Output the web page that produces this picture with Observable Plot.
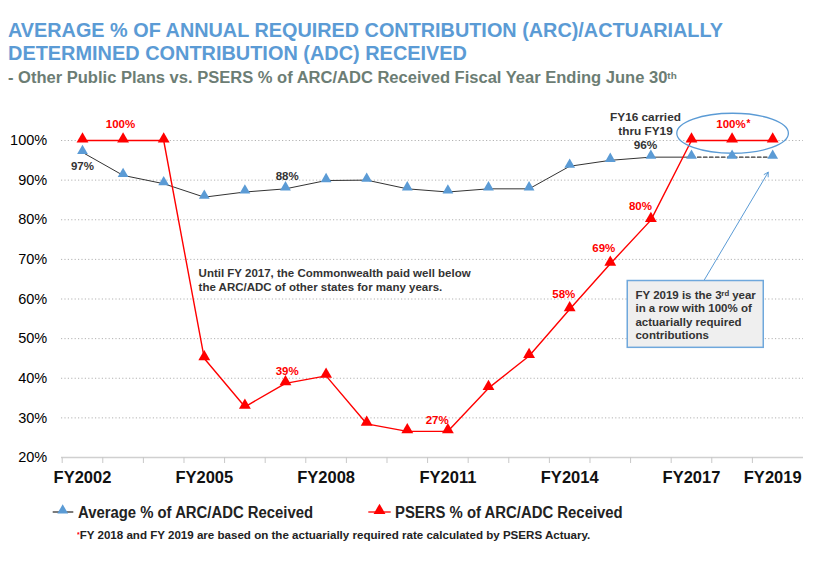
<!DOCTYPE html>
<html><head><meta charset="utf-8">
<script src="https://cdn.jsdelivr.net/npm/d3@7"></script>
<script src="https://cdn.jsdelivr.net/npm/@observablehq/plot@0.6"></script>
<style>
body{margin:0;background:#fff;}
#root{position:relative;width:821px;height:566px;overflow:hidden;font-family:"Liberation Sans",Arial,Helvetica,sans-serif;}
.t{position:absolute;white-space:nowrap;line-height:1;transform-origin:0 0;font-weight:bold;}
.t sup{font-size:0.6em;position:relative;top:-0.45em;vertical-align:baseline;line-height:0;}
#chart{position:absolute;left:0;top:100px;}
#legendIcons{position:absolute;left:0;top:495px;}
</style></head><body><div id="root">
<div class="t" id="t1" style="color:#5b9bd5">AVERAGE % OF ANNUAL REQUIRED CONTRIBUTION (ARC)/ACTUARIALLY</div>
<div class="t" id="t2" style="color:#5b9bd5">DETERMINED CONTRIBUTION (ADC) RECEIVED</div>
<div class="t" id="t3" style="color:#6c7d74">- Other Public Plans vs. PSERS % of ARC/ADC Received Fiscal Year Ending June 30<sup>th</sup></div>
<div id="chart"></div>
<svg id="legendIcons" width="821" height="34"></svg>
<div class="t" id="lg1" style="color:#222">Average % of ARC/ADC Received</div>
<div class="t" id="lg2" style="color:#222">PSERS % of ARC/ADC Received</div>
<div class="t" id="fn" style="color:#222"><sup style="color:#f00">*</sup>FY 2018 and FY 2019 are based on the actuarially required rate calculated by PSERS Actuary.</div>
</div>
<script>
// ---- data ----
const years = [2002,2003,2004,2005,2006,2007,2008,2009,2010,2011,2012,2013,2014,2015,2016,2017,2018,2019];
const avgPct = [97,91.2,89.1,85.7,87.0,87.8,89.9,90.0,87.8,87.0,87.8,87.8,93.5,95.0,95.8,95.8,95.8,95.8];
const psersPct = [100,100,100,45.0,32.8,38.7,40.6,28.5,26.6,26.6,37.5,45.6,57.4,68.9,79.9,100,100,100];
const labelYears = [2002,2005,2008,2011,2014,2017,2019];
const yTicks = [20,30,40,50,60,70,80,90,100];
const seriesNames = ["Average % of ARC/ADC Received","PSERS % of ARC/ADC Received"];

// value labels: which point, text
const pointLabels = [
  {series:"avg", year:2002, text:"97%"},
  {series:"psers", year:2003, text:"100%"},
  {series:"avg", year:2007, text:"88%"},
  {series:"psers", year:2007, text:"39%"},
  {series:"psers", year:2011, text:"27%"},
  {series:"psers", year:2014, text:"58%"},
  {series:"psers", year:2015, text:"69%"},
  {series:"psers", year:2016, text:"80%"},
  {series:"psers", year:2018, text:"100%"}
];
const carriedNote = "FY16 carried\nthru FY19\n96%";
const bodyNote = "Until FY 2017, the Commonwealth paid well below\nthe ARC/ADC of other states for many years.";
const boxNote = "FY 2019 is the 3\u02B3\u1D48 year\nin a row with 100% of\nactuarially required\ncontributions";

// ---- styling / placement (not data) ----
const BLUE = "#5b9bd5", RED = "#ff0000", DARK = "#333";
const labelOffsets = [[0,14.1],[-2.6,-16],[1.7,-12.3],[1.7,-12],[-10.7,-10.7],[-5.9,-14.8],[-6.5,-15.2],[-10.4,-13.6],[-1.1,-16]];

const data = years.map((year,i)=>({year, avg:avgPct[i], psers:psersPct[i]}));
const valueOf = (series, year) => data.find(d=>d.year===year)[series];
const halfYears = years.map(y=>y-0.5);

const labelMarks = pointLabels.map((l,i)=>Plot.text([l], {
  x: "year", y: d=>valueOf(d.series,d.year), text: "text",
  dx: labelOffsets[i][0], dy: labelOffsets[i][1],
  fill: l.series==="psers" ? RED : DARK, fontWeight: "bold", fontSize: 11.5, lineAnchor: "middle"
}));

const chart = Plot.plot({
  width: 821, height: 400,
  marginLeft: 61, marginRight: 18, marginTop: 40, marginBottom: 43,
  style: {fontFamily: "'Liberation Sans', Arial, sans-serif", color: "#000", background: "transparent", overflow: "visible"},
  x: {domain: [2001.483, 2019.759], label: null},
  y: {domain: [20, 100], label: null},
  marks: [
    Plot.gridY(yTicks, {stroke: "#b3b3b3", strokeOpacity: 1, strokeDasharray: "1.2,2.2"}),
    Plot.ruleY([20], {stroke: "#d0d0d0", strokeWidth: 1.5}),
    Plot.axisY({ticks: yTicks, tickSize: 0, tickPadding: 14.3, tickFormat: d=>d+"%", fontSize: 14.5, label: null}),
    Plot.axisX({ticks: halfYears, tickSize: 6, tickFormat: ()=>"", stroke: "#c8c8c8", label: null}),
    Plot.axisX({ticks: labelYears, tickSize: 0, tickPadding: 13.7, tickFormat: d=>"FY"+d, fontSize: 16.5, fontWeight: "bold", fill: "#111", label: null}),
    // annotation box + arrow
    Plot.arrow([{x1:2017.30, y1:64.54, x2:2018.89, y2:92.0}], {x1:"x1", y1:"y1", x2:"x2", y2:"y2", stroke: BLUE, strokeWidth: 1, headLength: 7}),
    Plot.rect([{x1:2015.43, x2:2018.78, y1:64.54, y2:47.68}], {x1:"x1", x2:"x2", y1:"y1", y2:"y2", fill: "#efefef", stroke: "#6fa8dc", strokeWidth: 1.5}),
    Plot.text([{x:2015.62, y:62.52}], {x:"x", y:"y", text: ()=>boxNote, textAnchor: "start", lineAnchor: "top", lineHeight: 1.174, fontSize: 11.5, fontWeight: "bold", fill: DARK}),
    // data
    Plot.line(data.filter(d=>d.year<=2017), {x: "year", y: "avg", stroke: DARK, strokeWidth: 1}),
    Plot.line(data.filter(d=>d.year>=2017), {x: "year", y: "avg", stroke: DARK, strokeWidth: 1.3, strokeDasharray: "3.5,2.5"}),
    Plot.line(data, {x: "year", y: "psers", stroke: RED, strokeWidth: 1.4}),
    Plot.dot(data, {x: "year", y: "avg", symbol: "triangle", r: 4, fill: BLUE, stroke: "none", dy: -1.5}),
    Plot.dot(data, {x: "year", y: "psers", symbol: "triangle", r: 4.4, fill: RED, stroke: "none", dy: -1.5}),
    ...labelMarks,
    Plot.text([{year:2018, series:"psers"}], {x:"year", y: d=>valueOf(d.series,d.year), text: ()=>"*", dx: 14.4, dy: -16.5, textAnchor: "start", fill: RED, fontWeight: "bold", fontSize: 10, lineAnchor: "middle"}),
    Plot.text([{year:2016, series:"avg"}], {x:"year", y: d=>valueOf(d.series,d.year), text: ()=>carriedNote, dx: -5.4, dy: -26.6, lineAnchor: "middle", lineHeight: 1.2, fill: DARK, fontWeight: "bold", fontSize: 11.8}),
    Plot.text([{x:2004.86, y:64.86}], {x:"x", y:"y", text: ()=>bodyNote, textAnchor: "start", lineAnchor: "middle", lineHeight: 1.174, fill: DARK, fontWeight: "bold", fontSize: 11.5})
  ]
});
document.getElementById("chart").appendChild(chart);

// ellipse highlighting FY2017-2019 100%
const sx = chart.scale("x"), sy = chart.scale("y");
d3.select(chart).append("ellipse")
  .attr("cx", sx.apply(2018) + 1).attr("cy", sy.apply(101.7))
  .attr("rx", 55.8).attr("ry", 20)
  .attr("fill", "none").attr("stroke", BLUE).attr("stroke-width", 1.3);

// legend swatches
const lg = d3.select("#legendIcons");
const tri = (r) => d3.symbol(d3.symbolTriangle, Math.PI*r*r)();
[[52.7,73.3,62.7,DARK,BLUE,4],[368.3,390.7,379.5,RED,RED,4.4]].forEach(([a,b,c,lc,fc,r])=>{
  lg.append("line").attr("x1",a).attr("x2",b).attr("y1",17).attr("y2",17).attr("stroke",lc).attr("stroke-width",1.3);
  lg.append("path").attr("d",tri(r)).attr("transform",`translate(${c},${17-1.5})`).attr("fill",fc);
});

// text placement for HTML headings / legend / footnote
function place(id, left, right, base, size){
  const el = document.getElementById(id);
  el.style.fontSize = size + "px";
  el.style.left = left + "px";
  el.style.top = (base - 0.8465*size) + "px";
  const w = el.getBoundingClientRect().width;
  el.style.transform = `scaleX(${(right-left)/w})`;
}
place("t1", 8.3, 723.3, 36.7, 21);
place("t2", 8.3, 467.3, 60, 21);
place("t3", 8.3, 677, 84, 16);
place("lg1", 78.3, 313.3, 518.3, 16);
place("lg2", 395, 622.7, 518.3, 16);
place("fn", 76.7, 590, 539.3, 10.5);
</script></body></html>
